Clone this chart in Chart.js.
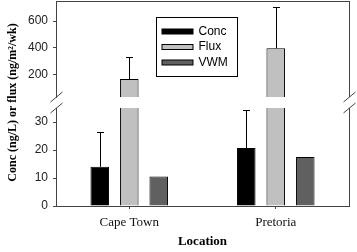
<!DOCTYPE html>
<html>
<head>
<meta charset="utf-8">
<script src="https://cdn.jsdelivr.net/npm/chart.js@4/dist/chart.umd.min.js"></script>
<style>
  html, body { margin: 0; padding: 0; background: #fff; }
  #wrap { width: 357px; height: 252px; }
</style>
</head>
<body>
<div id="wrap"><canvas id="chart"></canvas></div>
<script>
// values
const locations = ["Cape Town", "Pretoria"];
const conc = [14, 20.7];
const concErr = [26.3, 34.2];
const flux = [165, 395];
const fluxErr = [330, 705];
const vwm = [10.5, 17.5];

const lowRange = [0, 35];
const highRange = [30, 750];
const lowTicks = [0, 10, 20, 30];
const highTicks = [200, 400, 600];

const AXIS = "#444";

// keep each dataset inside its own segment of the broken axis
const clipToScale = {
  id: "clipToScale",
  beforeDatasetDraw(chart, args) {
    const s = chart.scales[args.meta.yAxisID];
    const ctx = chart.ctx;
    ctx.save();
    ctx.beginPath();
    ctx.rect(chart.chartArea.left, s.top, chart.chartArea.width, s.bottom - s.top);
    ctx.clip();
  },
  afterDatasetDraw(chart) {
    chart.ctx.restore();
  },
};

// one-sided error bars (upwards)
const errorBars = {
  id: "errorBars",
  afterDatasetsDraw(chart) {
    const ctx = chart.ctx;
    ctx.save();
    ctx.strokeStyle = "#000";
    ctx.lineWidth = 1;
    chart.data.datasets.forEach((ds, i) => {
      if (!ds.errors) return;
      const meta = chart.getDatasetMeta(i);
      const ys = chart.scales[meta.yAxisID];
      meta.data.forEach((bar, j) => {
        const x = Math.round(bar.x) + 0.5;
        const top = Math.round(ys.getPixelForValue(ds.errors[j])) + 0.5;
        ctx.beginPath();
        ctx.moveTo(x, bar.y);
        ctx.lineTo(x, top);
        ctx.moveTo(x - 3.5, top);
        ctx.lineTo(x + 3.5, top);
        ctx.stroke();
      });
    });
    ctx.restore();
  },
};

// frame, right border and break marks
const brokenFrame = {
  id: "brokenFrame",
  afterDraw(chart) {
    const ctx = chart.ctx;
    const { left, right, top } = chart.chartArea;
    const hi = chart.scales.yHigh;
    const lo = chart.scales.yLow;
    const L = Math.round(left) + 0.5;
    const R = Math.round(right) + 0.5;
    ctx.save();
    ctx.strokeStyle = AXIS;
    ctx.lineWidth = 1;
    ctx.beginPath();
    ctx.moveTo(L, Math.round(top) + 0.5);
    ctx.lineTo(R, Math.round(top) + 0.5);
    ctx.moveTo(R, top);
    ctx.lineTo(R, hi.bottom);
    ctx.moveTo(R, lo.top);
    ctx.lineTo(R, lo.bottom);
    [L, R].forEach((x) => {
      [hi.bottom, lo.top].forEach((y) => {
        ctx.moveTo(x - 6, y + 5);
        ctx.lineTo(x + 6, y - 5);
      });
    });
    ctx.stroke();
    ctx.restore();
  },
};

// boxed legend inside the plot
const boxLegend = {
  id: "boxLegend",
  afterDraw(chart) {
    const ctx = chart.ctx;
    const a = chart.chartArea;
    const bx = a.left + 100.5, by = a.top + 16.5, bw = 81, bh = 59;
    ctx.save();
    ctx.fillStyle = "#fff";
    ctx.fillRect(bx, by, bw, bh);
    ctx.strokeStyle = "#000";
    ctx.lineWidth = 1;
    ctx.strokeRect(bx, by, bw, bh);
    ctx.font = "12px 'Liberation Sans', Arial, sans-serif";
    ctx.textBaseline = "middle";
    chart.data.datasets.filter((d) => !d.hideInLegend).forEach((ds, i) => {
      const cy = by + 14 + i * 15.5;
      ctx.fillStyle = ds.backgroundColor;
      ctx.fillRect(bx + 5.5, cy - 2.5, 31, 5);
      ctx.strokeStyle = ds.borderColor;
      ctx.strokeRect(bx + 5.5, cy - 2.5, 31, 5);
      ctx.fillStyle = "#000";
      ctx.fillText(ds.label, bx + 42, cy);
    });
    ctx.restore();
  },
};

const noPad = (s) => {
  s.paddingTop = 0;
  s.paddingBottom = 0;
};

const yCommon = {
  type: "linear",
  position: "left",
  stack: "v",
  stacked: false,
  border: { color: AXIS },
  grid: { drawOnChartArea: false, drawTicks: true, tickLength: 3, color: AXIS },
  ticks: { font: { family: "'Liberation Sans', Arial, sans-serif", size: 12 }, color: "#222", padding: 5 },
  afterFit: (s) => { s.width = 56; noPad(s); },
};

new Chart(document.getElementById("chart"), {
  type: "bar",
  data: {
    labels: locations,
    datasets: [
      { label: "Conc", data: conc, errors: concErr, backgroundColor: "#000000", borderColor: "#000", borderWidth: 1, yAxisID: "yLow", stack: "conc" },
      { label: "Flux", data: flux, backgroundColor: "#c0c0c0", borderColor: "#000", borderWidth: 1, yAxisID: "yLow", stack: "flux" },
      { label: "VWM", data: vwm, backgroundColor: "#606060", borderColor: "#000", borderWidth: 1, yAxisID: "yLow", stack: "vwm" },
      { label: "Flux", data: flux, errors: fluxErr, backgroundColor: "#c0c0c0", borderColor: "#000", borderWidth: 1, yAxisID: "yHigh", stack: "flux", hideInLegend: true },
    ],
  },
  options: {
    responsive: true,
    maintainAspectRatio: false,
    animation: false,
    categoryPercentage: 0.604,
    barPercentage: 0.63,
    layout: { padding: { top: 1, right: 8, left: 0, bottom: 0 } },
    plugins: { legend: { display: false }, tooltip: { enabled: false } },
    scales: {
      x: {
        offset: true,
        border: { color: AXIS },
        grid: { drawOnChartArea: false, drawTicks: true, tickLength: 3, offset: false, color: AXIS },
        ticks: { font: { family: "'Liberation Serif', 'Times New Roman', serif", size: 13 }, color: "#111", padding: 6 },
        title: {
          display: true,
          text: "Location",
          font: { family: "'Liberation Serif', 'Times New Roman', serif", size: 13, weight: "bold" },
          color: "#000",
          padding: { top: 0, bottom: 3 },
        },
        afterFit: (s) => {
          s.height = 46;
          s.paddingLeft = 0;
          s.paddingRight = 0;
        },
      },
      yLow: {
        ...yCommon,
        stackWeight: 98,
        min: lowRange[0],
        max: lowRange[1],
        afterBuildTicks: (s) => { s.ticks = lowTicks.map((v) => ({ value: v })); },
      },
      yGap: {
        type: "linear",
        position: "left",
        stack: "v",
        stackWeight: 11,
        min: 0,
        max: 1,
        border: { display: false },
        grid: { display: false },
        ticks: { display: false },
        title: {
          display: true,
          text: "Conc (ng/L) or flux (ng/m²/wk)",
          font: { family: "'Liberation Serif', 'Times New Roman', serif", size: 12, weight: "bold" },
          color: "#000",
          padding: { top: 6, bottom: 0 },
        },
        afterFit: (s) => { s.width = 56; noPad(s); },
      },
      yHigh: {
        ...yCommon,
        stackWeight: 96,
        min: highRange[0],
        max: highRange[1],
        afterBuildTicks: (s) => { s.ticks = highTicks.map((v) => ({ value: v })); },
      },
    },
  },
  plugins: [clipToScale, errorBars, brokenFrame, boxLegend],
});
</script>
</body>
</html>
